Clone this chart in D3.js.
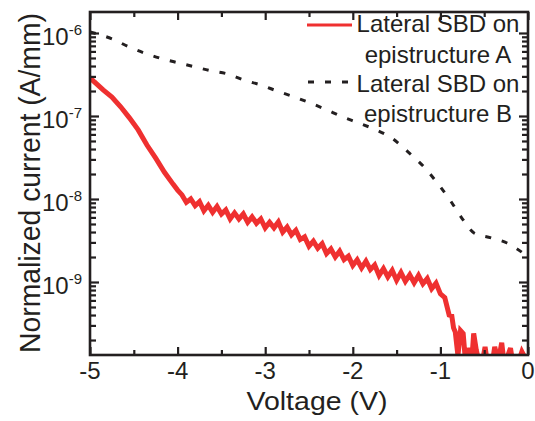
<!DOCTYPE html>
<html><head><meta charset="utf-8">
<script src="https://cdn.jsdelivr.net/npm/d3@7"></script>
<style>
body{margin:0;background:#fff;}
text{font-family:"Liberation Sans",Arial,Helvetica,sans-serif;fill:#231f20;}
</style></head>
<body><svg id="c" width="535" height="421"></svg>
<script>
// ---- data ----
const xTicksMajor = [-5,-4,-3,-2,-1,0];
const xTickLabels = ["-5","-4","-3","-2","-1","0"];
const xTicksMinor = [-4.5,-3.5,-2.5,-1.5,-0.5];
const yTicksMajor = [1e-6,1e-7,1e-8,1e-9];
const yTickExps = ["-6","-7","-8","-9"];

// Lateral SBD on epistructure B (dashed)
const voltB = [-5.00,-4.75,-4.555,-4.372,-4.178,-3.984,-3.801,-3.619,-3.425,-3.242,-3.048,-2.865,-2.671,-2.489,-2.317,-2.112,-1.929,-1.735,-1.553,-1.370,-1.176,-1.027,-0.890,-0.765,-0.616,-0.422,-0.240,-0.057,0.0];
const currB = [1.03e-6,8.5e-7,6.8e-7,5.7e-7,4.9e-7,4.35e-7,3.9e-7,3.5e-7,3.2e-7,2.7e-7,2.36e-7,2.0e-7,1.7e-7,1.44e-7,1.21e-7,9.7e-8,8.2e-8,6.8e-8,5.4e-8,3.7e-8,2.36e-8,1.52e-8,9.7e-9,6.1e-9,3.9e-9,3.4e-9,2.95e-9,2.23e-9,2.0e-9];

// Lateral SBD on epistructure A (red, noisy)
const voltA = [-5.00,-4.95,-4.85,-4.75,-4.65,-4.55,-4.45,-4.35,-4.25,-4.15,-4.05,-4.00,
 -3.95,-3.90,-3.85,-3.80,-3.75,-3.70,-3.65,-3.60,-3.55,-3.50,-3.45,-3.40,-3.35,-3.30,-3.25,-3.20,-3.15,-3.10,-3.05,-3.00,
 -2.95,-2.90,-2.85,-2.80,-2.75,-2.70,-2.65,-2.60,-2.55,-2.50,-2.45,-2.40,-2.35,-2.30,-2.25,-2.20,-2.15,-2.10,-2.05,-2.00,
 -1.95,-1.90,-1.85,-1.80,-1.75,-1.70,-1.65,-1.60,-1.55,-1.50,-1.45,-1.40,-1.35,-1.30,-1.25,-1.20,-1.15,-1.10,-1.05,-1.00,
 -0.95,-0.90,-0.87,-0.85,-0.83,-0.80,-0.77,-0.74,-0.71,-0.68,-0.64,-0.62,-0.59,-0.55,-0.52,-0.49,-0.46,-0.41,-0.38,-0.34,
 -0.30,-0.27,-0.23,-0.20,-0.17,-0.12,-0.07,-0.03,0.00];
const currA = [2.9e-7,2.57e-7,2.06e-7,1.69e-7,1.29e-7,9.5e-8,6.8e-8,4.47e-8,3.1e-8,2.1e-8,1.5e-8,1.28e-8,
 1.12e-8,9.1e-9,1.0e-8,8.3e-9,9.3e-9,7.2e-9,8.4e-9,6.9e-9,8.1e-9,6.6e-9,7.4e-9,5.75e-9,6.8e-9,5.75e-9,6.6e-9,5.25e-9,6.1e-9,5.1e-9,5.75e-9,4.5e-9,
 5.25e-9,4.5e-9,5.3e-9,4.0e-9,4.6e-9,3.7e-9,4.2e-9,3.25e-9,3.5e-9,2.7e-9,3.1e-9,2.55e-9,2.9e-9,2.2e-9,2.5e-9,2.0e-9,2.35e-9,1.86e-9,2.05e-9,1.58e-9,
 1.85e-9,1.48e-9,1.78e-9,1.41e-9,1.6e-9,1.2e-9,1.45e-9,1.15e-9,1.38e-9,1.05e-9,1.3e-9,1.02e-9,1.22e-9,9.8e-10,1.2e-9,9.5e-10,1.1e-9,8.3e-10,9.7e-10,7.2e-10,
 6.5e-10,4.0e-10,3.9e-10,2.8e-10,2.5e-10,1.3e-10,2.6e-10,2.4e-10,1.0e-10,1.6e-10,1.2e-10,2.4e-10,1.5e-10,1.0e-10,1.1e-10,1.65e-10,1.0e-10,1.0e-10,1.65e-10,1.1e-10,
 1.85e-10,1.0e-10,1.3e-10,1.6e-10,1.0e-10,1.0e-10,1.45e-10,1.2e-10,1.1e-10];

const legendLabels = [["Lateral SBD on","epistructure A"],["Lateral SBD on","epistructure B"]];
const xTitle = "Voltage (V)";
const yTitle = "Normalized current (A/mm)";

// ---- drawing ----
const ink = "#231f20", red = "#ef3030";
const L = 90, R = 528, T = 12, B = 355;
const svg = d3.select("#c");
const x = d3.scaleLinear().domain([-5,0]).range([L,R]);
const y = d3.scaleLog().domain([1.32e-10,1.79e-6]).range([B,T]);

svg.append("defs").append("clipPath").attr("id","clip")
  .append("rect").attr("x",L).attr("y",T).attr("width",R-L).attr("height",B-T);

// minor y ticks
const yMinor = [];
for (let e=-10;e<=-6;e++) for (let k=2;k<=9;k++){const v=k*Math.pow(10,e); if(v>y.domain()[0]&&v<y.domain()[1]) yMinor.push(v);}

const g = svg.append("g");
const lineA = d3.line().x((d,i)=>x(voltA[i])).y((d,i)=>y(Math.max(currA[i],1e-11)));
g.append("path").datum(currA).attr("clip-path","url(#clip)")
  .attr("d",lineA).attr("fill","none").attr("stroke",red).attr("stroke-width",5).attr("stroke-linejoin","miter").attr("stroke-miterlimit",3);
const lineB = d3.line().curve(d3.curveMonotoneX).x((d,i)=>x(voltB[i])).y((d,i)=>y(currB[i]));
g.append("path").datum(currB).attr("clip-path","url(#clip)")
  .attr("d",lineB).attr("fill","none").attr("stroke",ink).attr("stroke-width",3).attr("stroke-dasharray","6,11");

// Axes (inward ticks, mirrored)
const ax = svg.append("g");
ax.append("g").attr("transform",`translate(0,${B})`)
  .call(d3.axisBottom(x).tickValues(xTicksMajor).tickSize(-8).tickFormat(""));
ax.append("g").attr("transform",`translate(0,${B})`)
  .call(d3.axisBottom(x).tickValues(xTicksMinor).tickSize(-5).tickFormat(""));
ax.append("g").attr("transform",`translate(0,${T})`)
  .call(d3.axisTop(x).tickValues(xTicksMajor).tickSize(-8).tickFormat(""));
ax.append("g").attr("transform",`translate(0,${T})`)
  .call(d3.axisTop(x).tickValues(xTicksMinor).tickSize(-5).tickFormat(""));
ax.append("g").attr("transform",`translate(${L},0)`)
  .call(d3.axisLeft(y).tickValues(yTicksMajor).tickSize(-9).tickFormat(""));
ax.append("g").attr("transform",`translate(${L},0)`)
  .call(d3.axisLeft(y).tickValues(yMinor).tickSize(-6).tickFormat(""));
ax.append("g").attr("transform",`translate(${R},0)`)
  .call(d3.axisRight(y).tickValues(yTicksMajor).tickSize(-9).tickFormat(""));
ax.append("g").attr("transform",`translate(${R},0)`)
  .call(d3.axisRight(y).tickValues(yMinor).tickSize(-6).tickFormat(""));
ax.selectAll(".domain").remove();
ax.selectAll(".tick line").attr("stroke",ink).attr("stroke-width",2.2);
svg.append("rect").attr("x",L).attr("y",T).attr("width",R-L).attr("height",B-T)
  .attr("fill","none").attr("stroke",ink).attr("stroke-width",2.6);

// Tick labels
svg.append("g").selectAll("text").data(xTicksMajor).join("text")
  .attr("x",d=>x(d)).attr("y",379).attr("text-anchor","middle").attr("font-size",24)
  .text((d,i)=>xTickLabels[i]);
const yl = svg.append("g").selectAll("text").data(yTicksMajor).join("text")
  .attr("x",82).attr("y",d=>y(d)+12).attr("text-anchor","end").attr("font-size",24);
yl.append("tspan").text("10");
yl.append("tspan").attr("font-size",15).attr("dy",-10).text((d,i)=>yTickExps[i]);

// Titles
svg.append("text").attr("x",317).attr("y",410).attr("text-anchor","middle")
  .attr("font-size",26).attr("textLength",141).attr("lengthAdjust","spacingAndGlyphs").text(xTitle);
svg.append("text").attr("transform","translate(40,183) rotate(-90)").attr("text-anchor","middle")
  .attr("font-size",29).attr("textLength",340).attr("lengthAdjust","spacingAndGlyphs").text(yTitle);

// Legend
const lg = svg.append("g");
lg.append("line").attr("x1",307).attr("x2",352).attr("y1",25).attr("y2",25).attr("stroke",red).attr("stroke-width",3);
lg.append("line").attr("x1",307).attr("x2",352).attr("y1",82).attr("y2",82).attr("stroke",ink).attr("stroke-width",3).attr("stroke-dasharray","6,11").attr("stroke-dashoffset",-1);
const lBase = [[32,63],[92,122]];
legendLabels.forEach((lines,i)=>lines.forEach((t,j)=>{
  lg.append("text").attr("x",438).attr("y",lBase[i][j]).attr("text-anchor","middle").attr("font-size",24).text(t);
}));
</script></body></html>
